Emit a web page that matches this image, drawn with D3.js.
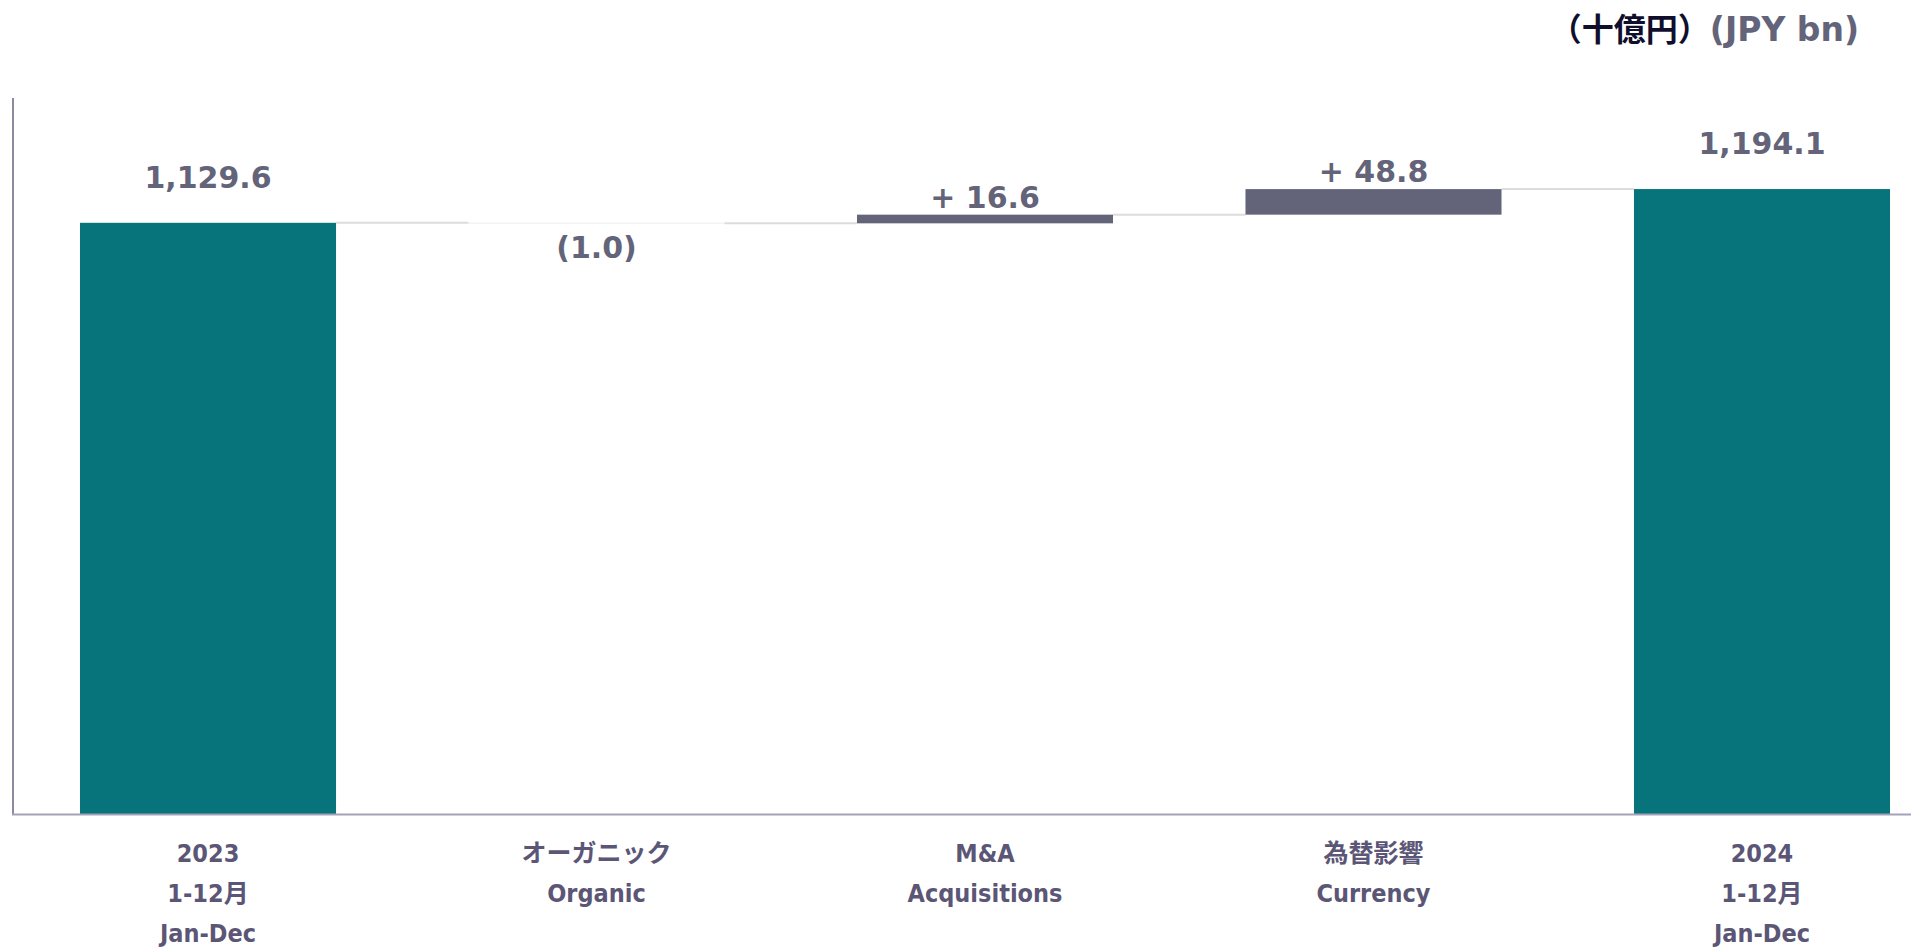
<!DOCTYPE html>
<html><head><meta charset="utf-8">
<script src="https://cdn.jsdelivr.net/npm/d3@7"></script>
<style>body{margin:0;background:#fff;}svg{display:block;}</style>
</head><body>
<svg id="c" width="1911" height="947"></svg>
<script>
const categoryKeys = ["y2023", "organic", "ma", "currency", "y2024"];
const categoryLabels = [
  ["2023", "1-12月", "Jan-Dec"],
  ["オーガニック", "Organic"],
  ["M&A", "Acquisitions"],
  ["為替影響", "Currency"],
  ["2024", "1-12月", "Jan-Dec"]
];
const barKinds = ["total", "delta", "delta", "delta", "total"];
const barValues = [1129.6, -1.0, 16.6, 48.8, 1194.1];
const valueLabels = ["1,129.6", "(1.0)", "+ 16.6", "+ 48.8", "1,194.1"];
const unitJa = "（十億円）";
const unitEn = "(JPY bn)";

const svg = d3.select("#c");
const teal = "#07737a", gray = "#636379", textC = "#636379", catC = "#5b5676";

let run = 0;
const segs = barValues.map((v, i) => {
  let lo, hi, end;
  if (barKinds[i] === "total") { lo = 0; hi = v; end = v; }
  else { const s = run; end = run + v; lo = Math.min(s, end); hi = Math.max(s, end); }
  run = end;
  return {key: categoryKeys[i], kind: barKinds[i], lo, hi, end, label: valueLabels[i], v};
});

const x = d3.scaleBand().domain(categoryKeys).range([80, 1890]).paddingInner(0.341).paddingOuter(0);
const y = d3.scaleLinear().domain([0, 1370]).range([814, 97]);

// connectors
for (let i = 0; i < segs.length - 1; i++) {
  const lv = segs[i].end;
  svg.append("line")
    .attr("x1", x(segs[i].key) + x.bandwidth()).attr("x2", x(segs[i+1].key))
    .attr("y1", y(lv)).attr("y2", y(lv))
    .attr("stroke", "#dcdcdc").attr("stroke-width", 2);
}
// bars
svg.selectAll("rect.bar").data(segs).enter().append("rect")
  .attr("x", d => x(d.key)).attr("width", x.bandwidth())
  .attr("y", d => y(d.hi)).attr("height", d => Math.max(0.5, y(d.lo) - y(d.hi)))
  .attr("fill", d => d.kind === "total" ? teal : (d.v < 0 ? "#dcdcdc" : gray));

// axes
svg.append("line").attr("x1", 13).attr("x2", 13).attr("y1", 98).attr("y2", 815)
  .attr("stroke", "#8b8aa3").attr("stroke-width", 2);
const xAxis = d3.axisBottom(x).tickSize(0).tickFormat("");
const ax = svg.append("g").attr("transform", "translate(0,814)").call(xAxis);
ax.select(".domain").remove();
svg.append("line").attr("x1", 12).attr("x2", 1911).attr("y1", 814.5).attr("y2", 814.5)
  .attr("stroke", "#a3a2b8").attr("stroke-width", 2);

// category labels
categoryLabels.forEach((lines, i) => {
  const cx = x(categoryKeys[i]) + x.bandwidth() / 2;
  lines.forEach((t, j) => {
    svg.append("text").attr("x", cx).attr("y", 862 + j * 40)
      .attr("text-anchor", "middle")
      .attr("font-family", "'DejaVu Sans Condensed','Noto Sans CJK JP',sans-serif")
      .attr("font-weight", "bold").attr("font-size", 25).attr("fill", catC)
      .text(t);
  });
});

// value labels
segs.forEach(d => {
  const cx = x(d.key) + x.bandwidth() / 2;
  let yy;
  if (d.kind === "total") yy = y(d.hi) - 35;
  else if (d.v < 0) yy = y(d.lo) + 35;
  else yy = y(d.hi) - 7;
  svg.append("text").attr("x", cx).attr("y", yy).attr("text-anchor", "middle")
    .attr("font-family", "'DejaVu Sans',Verdana,sans-serif").attr("font-weight", "bold")
    .attr("font-size", 30).attr("fill", textC).text(d.label);
});

// unit label
const ut = svg.append("text").attr("x", 1859).attr("y", 41).attr("text-anchor", "end")
  .attr("font-weight", "bold");
ut.append("tspan").attr("font-family", "'Noto Sans CJK JP',sans-serif").attr("font-size", 32).attr("fill", "#0f0f2d").text(unitJa);
ut.append("tspan").attr("font-family", "'DejaVu Sans',Verdana,sans-serif").attr("font-size", 33).attr("fill", textC).text(unitEn);
</script>
</body></html>
